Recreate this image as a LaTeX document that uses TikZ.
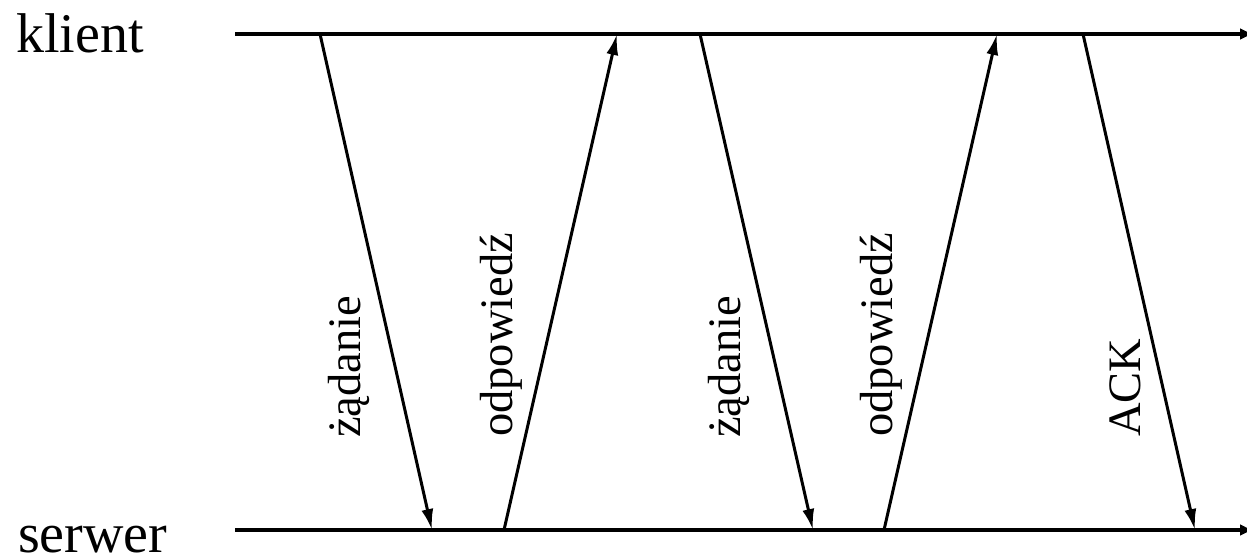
\documentclass[tikz,border=0pt]{standalone}
\usepackage{fontspec}
\setmainfont{Liberation Serif}
\usetikzlibrary{arrows.meta}
\begin{document}
\begin{tikzpicture}[x=1pt,y=-1pt,
  lbl/.style={font=\fontsize{56}{60}\selectfont, inner sep=0pt},
  msg/.style={line width=3pt, -{Latex[length=21pt,width=12pt]}},
  tl/.style={line width=4pt, -{Latex[length=14pt,width=12pt]}},
  rot/.style={font=\fontsize{46.5}{50}\selectfont, inner sep=0pt, rotate=90, anchor=base west}]
\useasboundingbox (0,0) rectangle (1247,558);
\node[lbl, anchor=base west] (klient) at (16,52) {klient};
\node[lbl, anchor=base west] (serwer) at (18,552) {serwer};
\coordinate (ks) at (235,34);
\coordinate (ke) at (1254,34);
\coordinate (ss) at (235,530);
\coordinate (se) at (1254,530);
\draw[tl] (ks) -- (ke);
\draw[tl] (ss) -- (se);
\coordinate (k1) at (320,34);
\coordinate (s1) at (432,530);
\coordinate (s2) at (504,530);
\coordinate (k2) at (617,34);
\coordinate (k3) at (700,34);
\coordinate (s3) at (813,530);
\coordinate (s4) at (884,530);
\coordinate (k4) at (997,34);
\coordinate (k5) at (1083,34);
\coordinate (s5) at (1195,530);
\draw[msg] (k1) -- (s1);
\draw[msg] (s2) -- (k2);
\draw[msg] (k3) -- (s3);
\draw[msg] (s4) -- (k4);
\draw[msg] (k5) -- (s5);
\node[rot] (l1) at (360,438) {żądanie};
\node[rot] (l2) at (512,437) {odpowiedź};
\node[rot] (l3) at (740,438) {żądanie};
\node[rot] (l4) at (892,437) {odpowiedź};
\node[rot] (l5) at (1140,437) {ACK};
\end{tikzpicture}
\end{document}
